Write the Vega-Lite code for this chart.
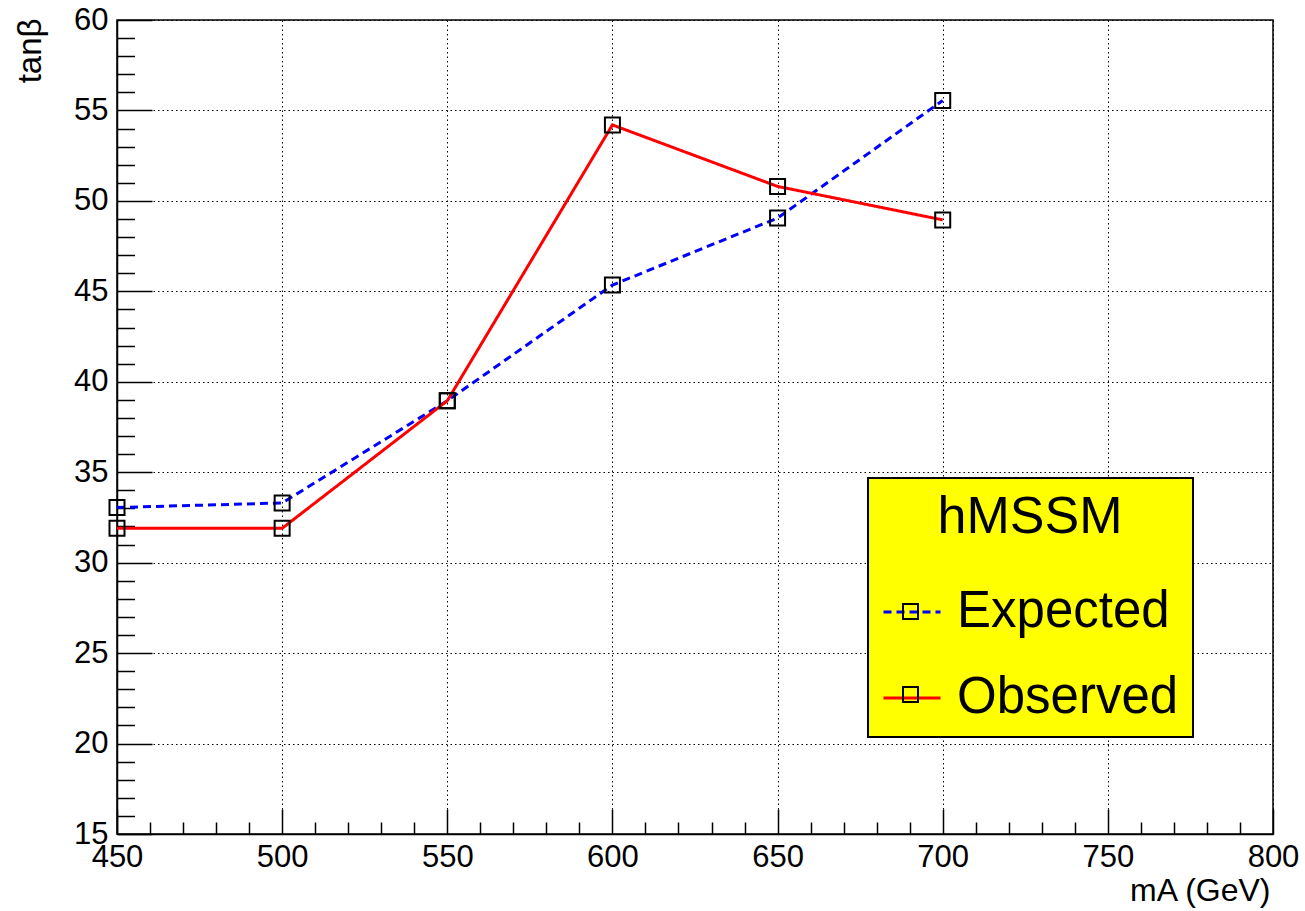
{
  "$schema": "https://vega.github.io/schema/vega-lite/v6.json",
  "width": 1156,
  "height": 814,
  "autosize": {"type": "none"},
  "padding": {"left": 117, "top": 20, "right": 32, "bottom": 77},
  "background": "white",
  "config": {
    "font": "Liberation Sans",
    "view": {"stroke": "black", "strokeWidth": 1.5}
  },
  "data": {
    "values": [
      {"mA": 450, "tanb": 33.05, "series": "Expected"},
      {"mA": 500, "tanb": 33.3, "series": "Expected"},
      {"mA": 550, "tanb": 38.95, "series": "Expected"},
      {"mA": 600, "tanb": 45.35, "series": "Expected"},
      {"mA": 650, "tanb": 49.05, "series": "Expected"},
      {"mA": 700, "tanb": 55.55, "series": "Expected"},
      {"mA": 450, "tanb": 31.9, "series": "Observed"},
      {"mA": 500, "tanb": 31.9, "series": "Observed"},
      {"mA": 550, "tanb": 38.95, "series": "Observed"},
      {"mA": 600, "tanb": 54.2, "series": "Observed"},
      {"mA": 650, "tanb": 50.8, "series": "Observed"},
      {"mA": 700, "tanb": 48.95, "series": "Observed"}
    ]
  },
  "layer": [
    {
      "mark": {"type": "line", "strokeWidth": 3},
      "encoding": {
        "x": {
          "field": "mA", "type": "quantitative",
          "scale": {"domain": [450, 800], "nice": false, "zero": false},
          "axis": {
            "orient": "bottom",
            "values": [450, 500, 550, 600, 650, 700, 750, 800],
            "grid": true, "gridColor": "black", "gridDash": [1.5, 3], "gridWidth": 1, "gridOpacity": 1,
            "ticks": true, "tickSize": -25, "tickColor": "black", "tickWidth": 1.5,
            "domain": true, "domainColor": "black", "domainWidth": 1.5,
            "labelFontSize": 31, "labelColor": "black", "labelFont": "Liberation Sans",
            "labelPadding": 33, "labelFlush": false, "labelOverlap": false,
            "title": "mA (GeV)", "titleFontSize": 32, "titleFontWeight": "normal", "titleColor": "black",
            "titleFont": "Liberation Sans", "titleAnchor": "end", "titleAlign": "right",
            "titleBaseline": "alphabetic", "titleX": 1153, "titleY": 66
          }
        },
        "y": {
          "field": "tanb", "type": "quantitative",
          "scale": {"domain": [15, 60], "nice": false, "zero": false},
          "axis": {
            "orient": "left",
            "values": [15, 20, 25, 30, 35, 40, 45, 50, 55, 60],
            "grid": true, "gridColor": "black", "gridDash": [1.5, 3], "gridWidth": 1, "gridOpacity": 1,
            "ticks": true, "tickSize": -35, "tickColor": "black", "tickWidth": 1.5,
            "domain": true, "domainColor": "black", "domainWidth": 1.5,
            "labelFontSize": 31, "labelColor": "black", "labelFont": "Liberation Sans",
            "labelPadding": 44, "labelFlush": false, "labelOverlap": false,
            "title": "tanβ", "titleFontSize": 33, "titleFontWeight": "normal", "titleColor": "black",
            "titleFont": "Liberation Sans", "titleAnchor": "end", "titleAngle": -90, "titleAlign": "right",
            "titleBaseline": "alphabetic", "titleX": -77, "titleY": -2
          }
        },
        "color": {
          "field": "series", "type": "nominal",
          "scale": {"domain": ["Expected", "Observed"], "range": ["#0000ff", "#ff0000"]},
          "legend": {
            "title": "hMSSM", "orient": "none", "legendX": 751, "legendY": 458, "zindex": 0,
            "fillColor": "#ffff00", "strokeColor": "black", "padding": 14,
            "titleFontSize": 52, "titleFont": "Liberation Sans", "titleFontWeight": "normal",
            "titleColor": "black", "titleAnchor": "middle", "titlePadding": 38, "titleLimit": 400,
            "labelFontSize": 51, "labelFont": "Liberation Sans", "labelColor": "black",
            "labelOffset": 15, "labelLimit": 400, "labelExpr": "datum.label + ' '",
            "symbolType": "stroke", "symbolSize": 3249, "symbolStrokeWidth": 3,
            "rowPadding": 31,
            "encode": {"legend": {"update": {"strokeWidth": {"value": 2}}}}
          }
        },
        "strokeDash": {
          "field": "series", "type": "nominal",
          "scale": {"domain": ["Expected", "Observed"], "range": [[8, 5], [1, 0]]},
          "legend": {
            "title": "hMSSM", "orient": "none", "legendX": 751, "legendY": 458, "zindex": 0,
            "fillColor": "#ffff00", "strokeColor": "black", "padding": 14,
            "titleFontSize": 52, "titleFont": "Liberation Sans", "titleFontWeight": "normal",
            "titleColor": "black", "titleAnchor": "middle", "titlePadding": 38, "titleLimit": 400,
            "labelFontSize": 51, "labelFont": "Liberation Sans", "labelColor": "black",
            "labelOffset": 15, "labelLimit": 400, "labelExpr": "datum.label + ' '",
            "symbolType": "stroke", "symbolSize": 3249, "symbolStrokeWidth": 3,
            "rowPadding": 31
          }
        }
      }
    },
    {
      "mark": {"type": "point", "filled": false, "color": "black", "size": 225, "strokeWidth": 2, "opacity": 1},
      "encoding": {
        "x": {
          "field": "mA", "type": "quantitative",
          "scale": {"domain": [450, 800], "nice": false, "zero": false},
          "axis": {
            "orient": "bottom",
            "values": [460, 470, 480, 490, 510, 520, 530, 540, 560, 570, 580, 590, 610, 620, 630, 640, 660, 670, 680, 690, 710, 720, 730, 740, 760, 770, 780, 790],
            "grid": false, "labels": false, "domain": false, "title": null,
            "ticks": true, "tickSize": -12, "tickColor": "black", "tickWidth": 1.5
          }
        },
        "y": {
          "field": "tanb", "type": "quantitative",
          "scale": {"domain": [15, 60], "nice": false, "zero": false},
          "axis": {
            "orient": "left",
            "values": [16, 17, 18, 19, 21, 22, 23, 24, 26, 27, 28, 29, 31, 32, 33, 34, 36, 37, 38, 39, 41, 42, 43, 44, 46, 47, 48, 49, 51, 52, 53, 54, 56, 57, 58, 59],
            "grid": false, "labels": false, "domain": false, "title": null,
            "ticks": true, "tickSize": -17.5, "tickColor": "black", "tickWidth": 1.5
          }
        },
        "shape": {
          "field": "series", "type": "nominal",
          "scale": {"range": ["square", "square"]},
          "legend": {
            "title": null, "orient": "none", "legendX": 768, "legendY": 566, "zindex": 1,
            "padding": 0,
            "symbolType": "square", "symbolSize": 225, "symbolStrokeColor": "black",
            "symbolFillColor": "transparent", "symbolStrokeWidth": 2,
            "labelFontSize": 51, "labelFont": "Liberation Sans", "labelOpacity": 0, "labelOffset": 12,
            "rowPadding": 31
          }
        }
      }
    }
  ],
  "resolve": {"axis": {"x": "independent", "y": "independent"}}
}
